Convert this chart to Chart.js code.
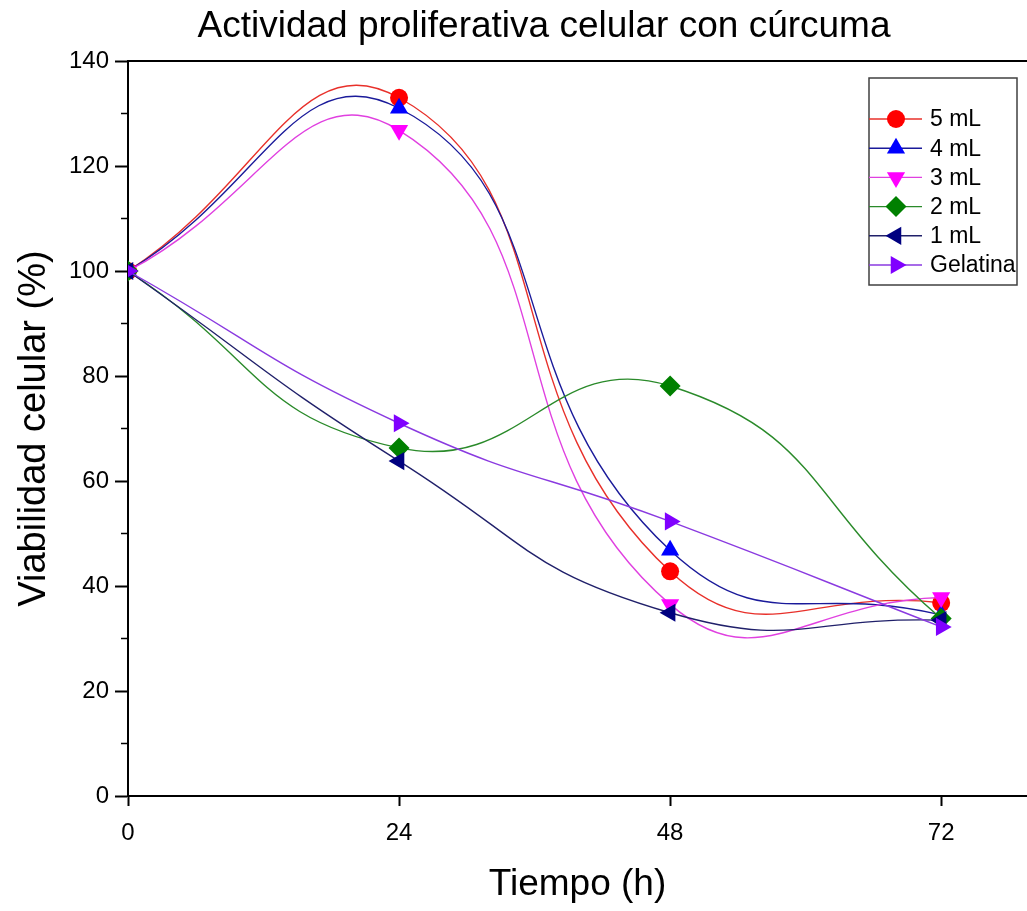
<!DOCTYPE html>
<html>
<head>
<meta charset="utf-8">
<script src="https://cdn.jsdelivr.net/npm/chart.js@4"></script>
<style>
  body { margin: 0; background: #fff; }
  canvas { display: block; }
</style>
</head>
<body>
<canvas id="myChart" width="1027" height="911"></canvas>
<script>
// time points (h)
var tiempo = [0, 24, 48, 72];
var xTicks = [0, 24, 48, 72];
var yTicks = [0, 20, 40, 60, 80, 100, 120, 140];

// viabilidad celular (%) per series
var ml5 = [100, 133, 42.8, 36.8];
var ml4 = [100, 131, 46.8, 34.5];
var ml3 = [100, 126.8, 36.5, 37.8];
var ml2 = [100, 66.3, 78.1, 33.8];
var ml1 = [100, 63.8, 34.9, 33.5];
var gelatina = [100, 71, 52.3, 32.2];

var FONT = 'Arial, "Liberation Sans", sans-serif';

function mkSet(label, values, lineColor, pointColor, style, rot, order) {
    return {
        label: label,
        data: values.map(function (v, i) { return { x: tiempo[i], y: v }; }),
        borderColor: lineColor,
        borderWidth: 1.4,
        backgroundColor: pointColor,
        pointBackgroundColor: pointColor,
        pointBorderColor: pointColor,
        pointBorderWidth: 0,
        pointStyle: style,
        pointRotation: rot,
        pointRadius: style === 'circle' ? 9 : 10.5,
        tension: 0.5,
        capBezierPoints: false,
        order: order
    };
}

var datasets = [
    mkSet('5 mL', ml5, '#e8302a', '#ff0000', 'circle', 0, 6),
    mkSet('4 mL', ml4, '#1a1a9a', '#0000ff', 'triangle', 0, 5),
    mkSet('3 mL', ml3, '#e040e0', '#ff00ff', 'triangle', 180, 4),
    mkSet('2 mL', ml2, '#2a8a2a', '#008000', 'rectRot', 0, 3),
    mkSet('1 mL', ml1, '#20206a', '#000080', 'triangle', -90, 2),
    mkSet('Gelatina', gelatina, '#8a3ae0', '#8000ff', 'triangle', 90, 1)
];

// extra drawing: title, top line, minor ticks, legend
var decor = {
    id: 'decor',
    afterDraw: function (chart) {
        var ctx = chart.ctx;
        var a = chart.chartArea;
        var ys = chart.scales.y;
        ctx.save();
        // top frame line
        ctx.strokeStyle = '#000';
        ctx.lineWidth = 2;
        ctx.beginPath();
        ctx.moveTo(a.left - 1, a.top);
        ctx.lineTo(a.right, a.top);
        ctx.stroke();
        // minor y ticks
        ctx.lineWidth = 1.5;
        for (var v = 10; v < 140; v += 20) {
            var py = ys.getPixelForValue(v);
            ctx.beginPath();
            ctx.moveTo(a.left - 7, py);
            ctx.lineTo(a.left, py);
            ctx.stroke();
        }
        // title
        ctx.fillStyle = '#000';
        ctx.font = '37px ' + FONT;
        ctx.textAlign = 'center';
        ctx.textBaseline = 'middle';
        ctx.fillText('Actividad proliferativa celular con cúrcuma', 544, 27);
        // legend
        var lx = 869, ly = 78, lw = 148, lh = 207;
        ctx.strokeStyle = '#404040';
        ctx.lineWidth = 1.5;
        ctx.strokeRect(lx, ly, lw, lh);
        ctx.font = '23px ' + FONT;
        ctx.textAlign = 'left';
        chart.data.datasets.forEach(function (ds, i) {
            var cy = 119 + i * 29.2;
            ctx.strokeStyle = ds.borderColor;
            ctx.lineWidth = 1.4;
            ctx.beginPath();
            ctx.moveTo(lx, cy);
            ctx.lineTo(922, cy);
            ctx.stroke();
            ctx.fillStyle = ds.pointBackgroundColor;
            Chart.helpers.drawPoint(ctx, {
                pointStyle: ds.pointStyle,
                rotation: ds.pointRotation,
                radius: ds.pointRadius,
                borderWidth: 0
            }, 896, cy);
            ctx.fillStyle = '#000';
            ctx.fillText(ds.label, 930, cy + 1);
        });
        ctx.restore();
    }
};

var ctx = document.getElementById('myChart').getContext('2d');
var myChart = new Chart(ctx, {
    type: 'line',
    data: { datasets: datasets },
    options: {
        responsive: false,
        animation: false,
        layout: { autoPadding: false, padding: { top: 61, right: 0, left: 0, bottom: 0 } },
        plugins: {
            legend: { display: false },
            title: { display: false },
            tooltip: { enabled: false }
        },
        scales: {
            x: {
                type: 'linear',
                min: 0,
                max: 79.6,
                afterBuildTicks: function (scale) {
                    scale.ticks = xTicks.map(function (v) { return { value: v }; });
                },
                afterFit: function (scale) {
                    scale.height = 115;
                    scale.paddingRight = 0;
                    scale.paddingLeft = 0;
                },
                grid: { drawOnChartArea: false, tickLength: 10, color: '#000', tickWidth: 2 },
                border: { color: '#000', width: 2 },
                ticks: { color: '#000', font: { size: 24, family: FONT }, padding: 13, maxRotation: 0 },
                title: { display: true, text: 'Tiempo (h)', color: '#000', font: { size: 37, family: FONT }, padding: { top: 8 } }
            },
            y: {
                min: 0,
                max: 140,
                afterBuildTicks: function (scale) {
                    scale.ticks = yTicks.map(function (v) { return { value: v }; });
                },
                afterFit: function (scale) { scale.width = 128; },
                grid: { drawOnChartArea: false, tickLength: 13, color: '#000', tickWidth: 2 },
                border: { color: '#000', width: 2 },
                ticks: { color: '#000', font: { size: 24, family: FONT }, padding: 6 },
                title: { display: true, text: 'Viabilidad celular (%)', color: '#000', font: { size: 38, family: FONT }, padding: { top: 12, bottom: 0 } }
            }
        }
    },
    plugins: [decor]
});
</script>
</body>
</html>
